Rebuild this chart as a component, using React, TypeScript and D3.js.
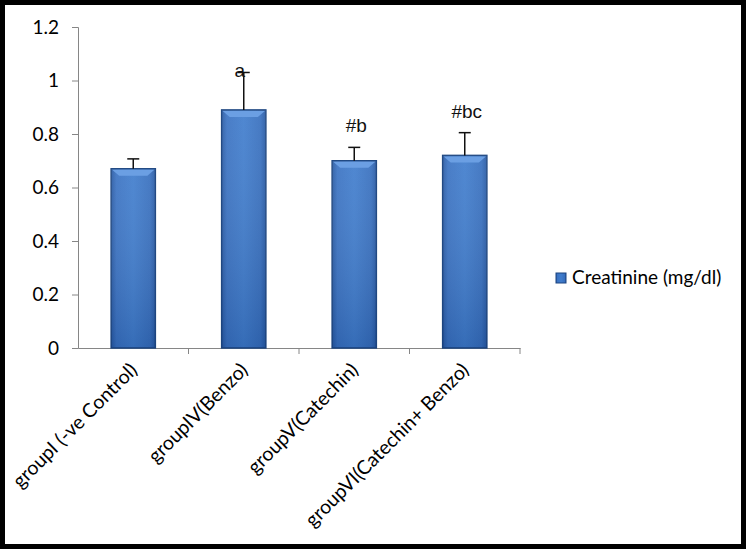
import React, { useEffect, useRef } from "react";
import * as d3 from "d3";

const groups = [
  "groupI (-ve Control)",
  "groupIV(Benzo)",
  "groupV(Catechin)",
  "groupVI(Catechin+ Benzo)",
];
const creatinine = [0.67, 0.89, 0.7, 0.72];
const errors = [0.037, 0.14, 0.05, 0.085];
const marks = ["", "a", "#b", "#bc"];
const yTicks = [0, 0.2, 0.4, 0.6, 0.8, 1, 1.2];
const seriesName = "Creatinine (mg/dl)";

const App = () => {
  const svgRef = useRef<SVGSVGElement>(null);

  useEffect(() => {
    const svgEl = d3.select(svgRef.current);
    svgEl.selectAll("*").remove();

    const width = 750;
    const height = 552;
    const plot = { left: 78, right: 520, top: 27, bottom: 348 };
    const font = "Lato, 'Open Sans', sans-serif";

    const svg = svgEl.attr("width", width).attr("height", height);

    // gradients for the bevelled bars
    const defs = svg.append("defs");
    const grad = defs
      .append("linearGradient")
      .attr("id", "barGrad")
      .attr("x1", 0)
      .attr("x2", 1)
      .attr("y1", 0)
      .attr("y2", 0);
    grad.append("stop").attr("offset", "0%").attr("stop-color", "#2759a3");
    grad.append("stop").attr("offset", "12%").attr("stop-color", "#3a72c2");
    grad.append("stop").attr("offset", "50%").attr("stop-color", "#407dcd");
    grad.append("stop").attr("offset", "88%").attr("stop-color", "#376fbe");
    grad.append("stop").attr("offset", "100%").attr("stop-color", "#2759a3");

    const vgrad = defs
      .append("linearGradient")
      .attr("id", "barShade")
      .attr("x1", 0)
      .attr("x2", 0)
      .attr("y1", 0)
      .attr("y2", 1);
    vgrad.append("stop").attr("offset", "0%").attr("stop-color", "#ffffff").attr("stop-opacity", 0.08);
    vgrad.append("stop").attr("offset", "100%").attr("stop-color", "#0a2a60").attr("stop-opacity", 0.2);

    svg
      .append("rect")
      .attr("width", width)
      .attr("height", height)
      .attr("fill", "#ffffff");

    const x = d3
      .scaleBand()
      .domain(groups)
      .range([plot.left, plot.right])
      .padding(0);

    const y = d3
      .scaleLinear()
      .domain([0, 1.2])
      .range([plot.bottom, plot.top]);

    // y axis
    const yAxis = svg
      .append("g")
      .attr("transform", `translate(${plot.left},0)`)
      .call(
        d3
          .axisLeft(y)
          .tickValues(yTicks)
          .tickSize(6)
          .tickPadding(13)
          .tickFormat((d) => String(d))
      );
    yAxis.select(".domain").attr("stroke", "#868686");
    yAxis.selectAll(".tick line").attr("stroke", "#868686");
    yAxis
      .selectAll("text")
      .attr("fill", "#000")
      .style("font-family", font)
      .style("font-size", "19px");

    // x axis
    const xAxis = svg
      .append("g")
      .attr("transform", `translate(0,${plot.bottom})`)
      .call(d3.axisBottom(x).tickSize(0).tickPadding(10));
    xAxis.select(".domain").attr("stroke", "#868686");
    xAxis.selectAll(".tick line").remove();
    xAxis
      .selectAll("text")
      .attr("fill", "#000")
      .style("font-family", font)
      .style("font-size", "19.5px")
      .attr("text-anchor", "end")
      .attr("dy", "0.3em")
      .attr("transform", "translate(-6,12) rotate(-45)");

    // category separators
    svg
      .append("g")
      .selectAll("line")
      .data(groups.slice(1).concat(["__end"]))
      .enter()
      .append("line")
      .attr("x1", (d, i) => plot.left + x.step() * (i + 1))
      .attr("x2", (d, i) => plot.left + x.step() * (i + 1))
      .attr("y1", plot.bottom)
      .attr("y2", plot.bottom + 6)
      .attr("stroke", "#868686");

    const barW = x.bandwidth() * 0.4;
    const cx = (g: string) => (x(g) as number) + x.bandwidth() / 2;

    const bars = svg
      .append("g")
      .selectAll("g")
      .data(groups)
      .enter()
      .append("g");

    bars
      .append("rect")
      .attr("x", (g) => cx(g) - barW / 2)
      .attr("y", (g, i) => y(creatinine[i]))
      .attr("width", barW)
      .attr("height", (g, i) => y(0) - y(creatinine[i]))
      .attr("fill", "url(#barGrad)")
      .attr("stroke", "#1c4580")
      .attr("stroke-width", 1.5);

    bars
      .append("rect")
      .attr("x", (g) => cx(g) - barW / 2)
      .attr("y", (g, i) => y(creatinine[i]))
      .attr("width", barW)
      .attr("height", (g, i) => y(0) - y(creatinine[i]))
      .attr("fill", "url(#barShade)");

    // top bevel
    bars
      .append("path")
      .attr("d", (g, i) => {
        const x0 = cx(g) - barW / 2 + 1;
        const x1 = cx(g) + barW / 2 - 1;
        const t = y(creatinine[i]) + 1;
        return `M${x0},${t}L${x1},${t}L${x1 - 7},${t + 6}L${x0 + 7},${t + 6}Z`;
      })
      .attr("fill", "#6b9fe3");

    // error bars
    const err = svg.append("g").attr("stroke", "#111").attr("stroke-width", 1.5);
    groups.forEach((g, i) => {
      const top = y(creatinine[i] + errors[i]);
      err
        .append("line")
        .attr("x1", cx(g))
        .attr("x2", cx(g))
        .attr("y1", y(creatinine[i]))
        .attr("y2", top);
      err
        .append("line")
        .attr("x1", cx(g) - 6)
        .attr("x2", cx(g) + 6)
        .attr("y1", top)
        .attr("y2", top);
    });

    // significance letters
    svg
      .append("g")
      .selectAll("text")
      .data(groups)
      .enter()
      .append("text")
      .attr("x", (g, i) => cx(g) + (i === 1 ? -4 : 2))
      .attr("y", (g, i) => y(creatinine[i] + errors[i]) - (i === 1 ? -5 : 15))
      .attr("text-anchor", "middle")
      .style("font-family", "'Liberation Sans', Arial, sans-serif")
      .style("font-size", "19px")
      .attr("fill", "#111")
      .text((g, i) => marks[i]);

    // legend
    const legend = svg.append("g").attr("transform", "translate(556,273)");
    legend
      .append("rect")
      .attr("width", 10)
      .attr("height", 10)
      .attr("fill", "url(#barGrad)")
      .attr("stroke", "#1c4580");
    legend
      .append("text")
      .attr("x", 16)
      .attr("y", 11)
      .style("font-family", font)
      .style("font-size", "19px")
      .attr("fill", "#000")
      .text(seriesName);

    // outer frame
    svg
      .append("rect")
      .attr("x", 2.5)
      .attr("y", 2.5)
      .attr("width", 741)
      .attr("height", 544)
      .attr("fill", "none")
      .attr("stroke", "#000")
      .attr("stroke-width", 5);
  }, []);

  return (
    <svg
      ref={svgRef}
      style={{ position: "absolute", left: 0, top: 0, display: "block" }}
    ></svg>
  );
};

export default App;
